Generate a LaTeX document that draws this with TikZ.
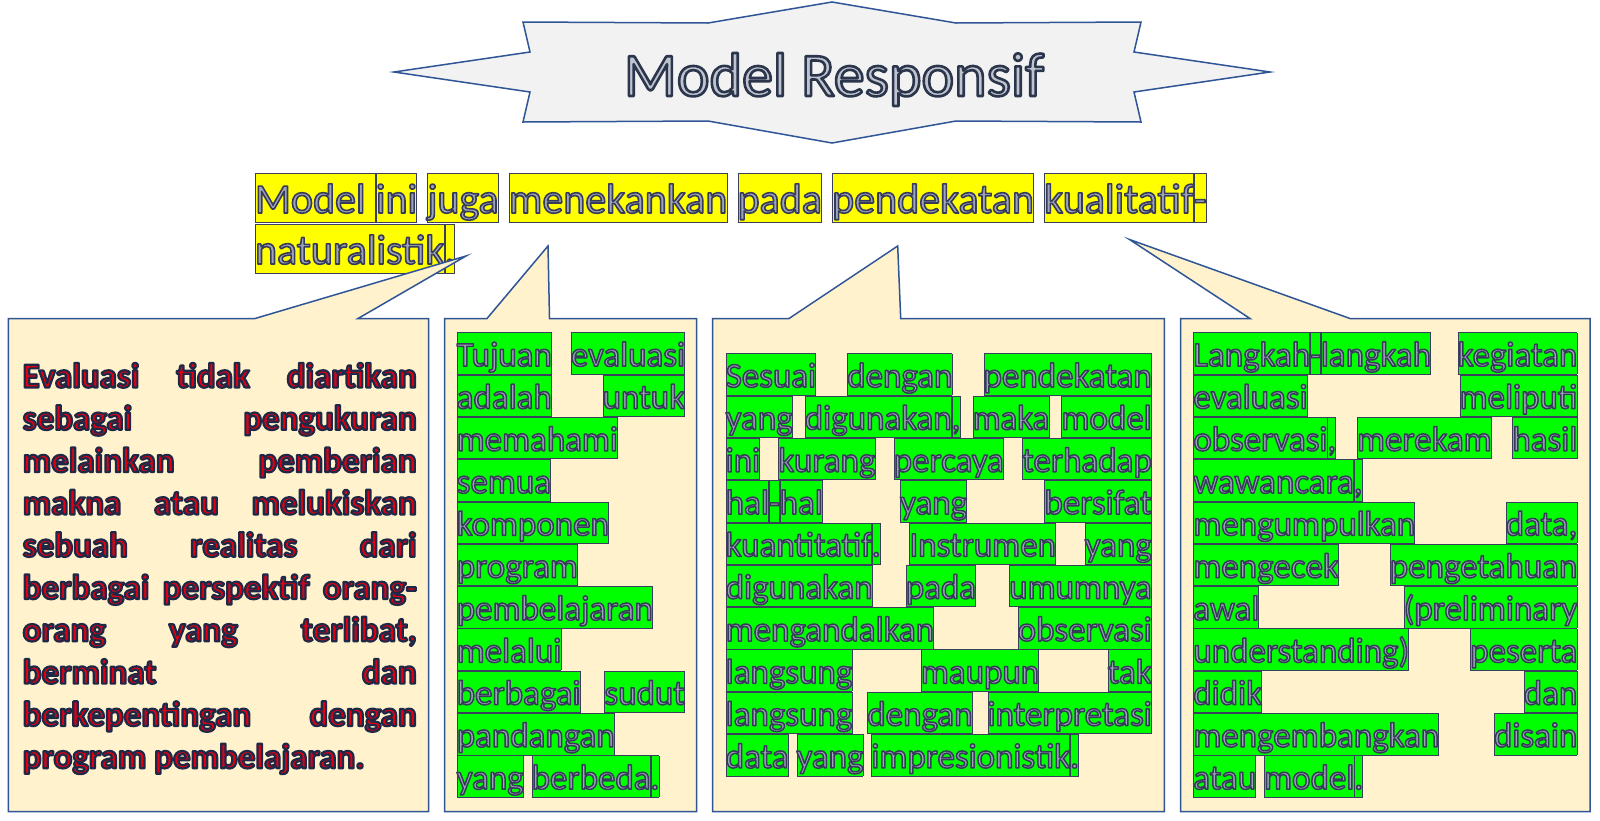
\documentclass[tikz,border=0pt]{standalone}
\usepackage{fontspec}
\setmainfont{Carlito}
\usepackage{xcolor}
\definecolor{starfill}{HTML}{F2F2F2}
\definecolor{shapeline}{HTML}{2F5597}
\definecolor{calloutfill}{HTML}{FFF2CC}
\definecolor{hlgreen}{HTML}{00FF00}
\definecolor{hlyellow}{HTML}{FFFF00}
\definecolor{hlline}{HTML}{3A3F5C}
\definecolor{wordfill}{HTML}{A0A4BA}
\definecolor{titlefill}{HTML}{BFC4CE}
\definecolor{redfill}{HTML}{E00012}
\setlength\fboxsep{-0.4pt}
\setlength\fboxrule{0.4pt}
\newcommand\bodyfont{\fontsize{17.5}{21}\selectfont}
\newcommand\headfont{\fontsize{21}{25}\selectfont}
\newcommand\titlefont{\fontsize{31}{37}\selectfont}
% outlined text: #1 stroke rgb, #2 stroke width, #3 fill colour, #4 text
\newcommand\olt[4]{{\color{#3}\special{pdf:literal direct 2 Tr #2 w 1 j #1 RG}#4\special{pdf:literal direct 0 Tr}}}
\newcommand\grw[1]{\fcolorbox{hlline}{hlgreen}{\rule[-4.2pt]{0pt}{21.15pt}\olt{0.21 0.23 0.35}{0.75}{wordfill}{#1}}}
\newcommand\ylw[1]{\fcolorbox{hlline}{hlyellow}{\rule[-5pt]{0pt}{25.25pt}\olt{0.21 0.23 0.35}{0.8}{wordfill}{#1}}}
\newcommand\redl[1]{\olt{0.12 0.16 0.28}{1.1}{redfill}{#1}}
\newcommand\jtwo[1]{\makebox[114.15pt][s]{#1}}
\newcommand\jthree[1]{\makebox[213pt][s]{#1}}
\newcommand\jfour[1]{\makebox[192pt][s]{#1}}
\newcommand\jone[1]{\makebox[197pt][s]{#1}}
\newcommand\hgap{\hspace{5.1pt}}
\begin{document}
\begin{tikzpicture}[x=0.5pt,y=-0.5pt,
  shapestyle/.style={draw=shapeline,line width=0.75pt,line join=miter},
  callout/.style={shapestyle,fill=calloutfill},
  row/.style={anchor=base west,inner sep=0pt,outer sep=0pt,font=\bodyfont},
  redrow/.style={anchor=base west,inner sep=0pt,outer sep=0pt,font=\bodyfont\bfseries},
  headrow/.style={anchor=base west,inner sep=0pt,outer sep=0pt,font=\headfont}]
\useasboundingbox (0,0) rectangle (1600,820);
\fill[white] (0,0) rectangle (1600,820);

% title banner
\draw[shapestyle,fill=starfill] (394,72) -- (530,52) -- (523,22) -- (708,23) -- (832,2) -- (956,23)
  -- (1141,22) -- (1134,52) -- (1270,72) -- (1134,92) -- (1141,122) -- (956,121) -- (832,143)
  -- (708,121) -- (523,122) -- (530,92) -- cycle;
\node[anchor=base,inner sep=0pt,font=\titlefont] (title) at (834,96)
  {\olt{0.17 0.21 0.30}{1.3}{titlefill}{Model Responsif}};

% highlighted statement
\node[headrow] (h0) at (255,213) {\ylw{Model\hgap}\ylw{ini}\hgap\ylw{juga}\hgap\ylw{menekankan}\hgap\ylw{pada}\hgap\ylw{pendekatan}\hgap\ylw{kualitatif}\ylw{-}};
\node[headrow] (h1) at (255,264) {\ylw{naturalistik}\ylw{.}};

% callouts
\draw[callout] (8.3,318.5) -- (255,318.5) -- (466,256) -- (358,318.5) -- (428.5,318.5)
  -- (428.5,811.5) -- (8.3,811.5) -- cycle;
\draw[callout] (444.5,318.5) -- (487,318.5) -- (548,246) -- (549.5,318.5) -- (696.7,318.5)
  -- (696.7,811.5) -- (444.5,811.5) -- cycle;
\draw[callout] (712.7,318.5) -- (789,318.5) -- (897.7,246) -- (900.7,318.5) -- (1164.3,318.5)
  -- (1164.3,811.5) -- (712.7,811.5) -- cycle;
\draw[callout] (1180.7,318.5) -- (1250,318.5) -- (1129.5,239.5) -- (1350,318.5) -- (1590,318.5)
  -- (1590,811.5) -- (1180.7,811.5) -- cycle;

% box 1
\node[redrow] (a0) at (22.7,387.5) {\redl{\jone{Evaluasi tidak diartikan}}};
\node[redrow] (a1) at (22.7,429.8) {\redl{\jone{sebagai pengukuran}}};
\node[redrow] (a2) at (22.7,472.1) {\redl{\jone{melainkan pemberian}}};
\node[redrow] (a3) at (22.7,514.4) {\redl{\jone{makna atau melukiskan}}};
\node[redrow] (a4) at (22.7,556.7) {\redl{\jone{sebuah realitas dari}}};
\node[redrow] (a5) at (22.7,599.0) {\redl{\jone{berbagai perspektif orang-}}};
\node[redrow] (a6) at (22.7,641.3) {\redl{\jone{orang yang terlibat,}}};
\node[redrow] (a7) at (22.7,683.6) {\redl{\jone{berminat dan}}};
\node[redrow] (a8) at (22.7,725.9) {\redl{\jone{berkepentingan dengan}}};
\node[redrow] (a9) at (22.7,768.2) {\redl{program pembelajaran.}};

% box 2
\node[row] (b0) at (456.7,366.2) {\jtwo{\grw{Tujuan} \grw{evaluasi}}};
\node[row] (b1) at (456.7,408.5) {\jtwo{\grw{adalah} \grw{untuk}}};
\node[row] (b2) at (456.7,450.8) {\grw{memahami}};
\node[row] (b3) at (456.7,493.1) {\grw{semua}};
\node[row] (b4) at (456.7,535.4) {\grw{komponen}};
\node[row] (b5) at (456.7,577.7) {\grw{program}};
\node[row] (b6) at (456.7,620.0) {\grw{pembelajaran}};
\node[row] (b7) at (456.7,662.3) {\grw{melalui}};
\node[row] (b8) at (456.7,704.6) {\jtwo{\grw{berbagai} \grw{sudut}}};
\node[row] (b9) at (456.7,746.9) {\grw{pandangan}};
\node[row] (b10) at (456.7,789.2) {\grw{yang} \grw{berbeda}\grw{.}};

% box 3
\node[row] (c0) at (725.7,387.2) {\jthree{\grw{Sesuai} \grw{dengan} \grw{pendekatan}}};
\node[row] (c1) at (725.7,429.5) {\jthree{\grw{yang} \grw{digunakan}\grw{,} \grw{maka} \grw{model}}};
\node[row] (c2) at (725.7,471.8) {\jthree{\grw{ini} \grw{kurang} \grw{percaya} \grw{terhadap}}};
\node[row] (c3) at (725.7,514.1) {\jthree{\grw{hal}\grw{-}\grw{hal} \grw{yang} \grw{bersifat}}};
\node[row] (c4) at (725.7,556.4) {\jthree{\grw{kuantitatif}\grw{.} \grw{Instrumen} \grw{yang}}};
\node[row] (c5) at (725.7,598.7) {\jthree{\grw{digunakan} \grw{pada} \grw{umumnya}}};
\node[row] (c6) at (725.7,641.0) {\jthree{\grw{mengandalkan} \grw{observasi}}};
\node[row] (c7) at (725.7,683.3) {\jthree{\grw{langsung} \grw{maupun} \grw{tak}}};
\node[row] (c8) at (725.7,725.6) {\jthree{\grw{langsung} \grw{dengan} \grw{interpretasi}}};
\node[row] (c9) at (725.7,767.9) {\grw{data} \grw{yang} \grw{impresionistik}\grw{.}};

% box 4
\node[row] (d0) at (1193.3,366.2) {\jfour{\grw{Langkah}\grw{-}\grw{langkah} \grw{kegiatan}}};
\node[row] (d1) at (1193.3,408.5) {\jfour{\grw{evaluasi} \grw{meliputi}}};
\node[row] (d2) at (1193.3,450.8) {\jfour{\grw{observasi}\grw{,} \grw{merekam} \grw{hasil}}};
\node[row] (d3) at (1193.3,493.1) {\grw{wawancara}\grw{,}};
\node[row] (d4) at (1193.3,535.4) {\jfour{\grw{mengumpulkan} \grw{data,}}};
\node[row] (d5) at (1193.3,577.7) {\jfour{\grw{mengecek} \grw{pengetahuan}}};
\node[row] (d6) at (1193.3,620.0) {\jfour{\grw{awal} \grw{(preliminary}}};
\node[row] (d7) at (1193.3,662.3) {\jfour{\grw{understanding)} \grw{peserta}}};
\node[row] (d8) at (1193.3,704.6) {\jfour{\grw{didik} \grw{dan}}};
\node[row] (d9) at (1193.3,746.9) {\jfour{\grw{mengembangkan} \grw{disain}}};
\node[row] (d10) at (1193.3,789.2) {\grw{atau} \grw{model}\grw{.}};
\end{tikzpicture}
\end{document}
